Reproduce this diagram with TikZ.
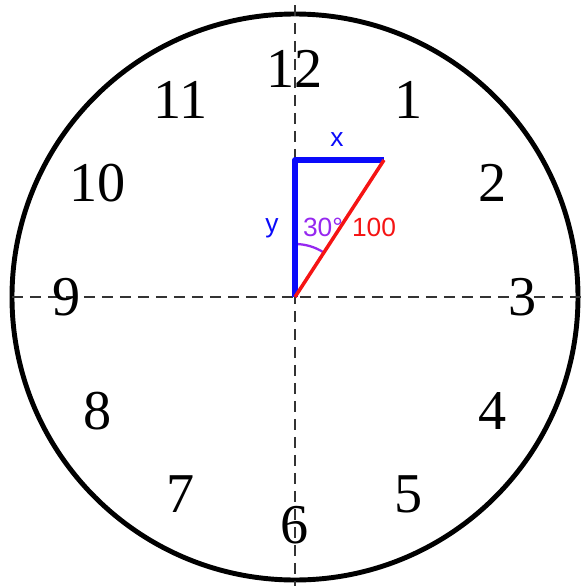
\documentclass[tikz,border=0pt]{standalone}
\usepackage{fontspec}
\setmainfont{Liberation Serif}
\newfontfamily\labelfont{Liberation Sans}
\usetikzlibrary{positioning,calc}
\definecolor{myblue}{RGB}{10,10,250}
\definecolor{myred}{RGB}{245,20,20}
\definecolor{mypurple}{RGB}{150,40,240}

\tikzset{
    hournum/.style={font=\fontsize{32}{32}\selectfont, inner sep=0pt},
    sidelabel/.style={font=\labelfont\fontsize{15}{15}\selectfont, inner sep=1pt},
    axisline/.style={black!80, line width=1.5pt, dash pattern=on 0.22cm off 0.14cm},
}

\begin{document}
\begin{tikzpicture}[x=0.02cm, y=0.02cm]
            \useasboundingbox (-295,-289) rectangle (287,297);
            % clock face
            \draw[line width=2.8pt] (0,0) circle (283);
            \draw[axisline] (0,292) -- (0,-289);
            \draw[axisline] (-283,0) -- (287,0);
            % hour numbers
            \foreach \h in {1,...,12}
                \node[hournum] (h\h) at ({90-30*\h}:228) {\h};
            % triangle
            \coordinate (o) at (0,0);
            \coordinate (ytop) at (0,137);
            \coordinate (xend) at (89,137);
            \draw[mypurple, line width=1.3pt] (0,53) arc[start angle=90, end angle=57, radius=53];
            \draw[myblue, line width=3pt, line join=round] (o) -- (ytop) -- (xend);
            \draw[myred, line width=2pt] (o) -- (xend);
            \node[sidelabel, text=myblue] (xlab) at (42,157) {x};
            \node[sidelabel, text=myblue] (ylab) at (-23,69) {y};
            \node[sidelabel, text=mypurple] (angle) at (28,70) {30°};
            \node[sidelabel, text=myred] (hyp) at (79,70) {100};
        \end{tikzpicture}
\end{document}
